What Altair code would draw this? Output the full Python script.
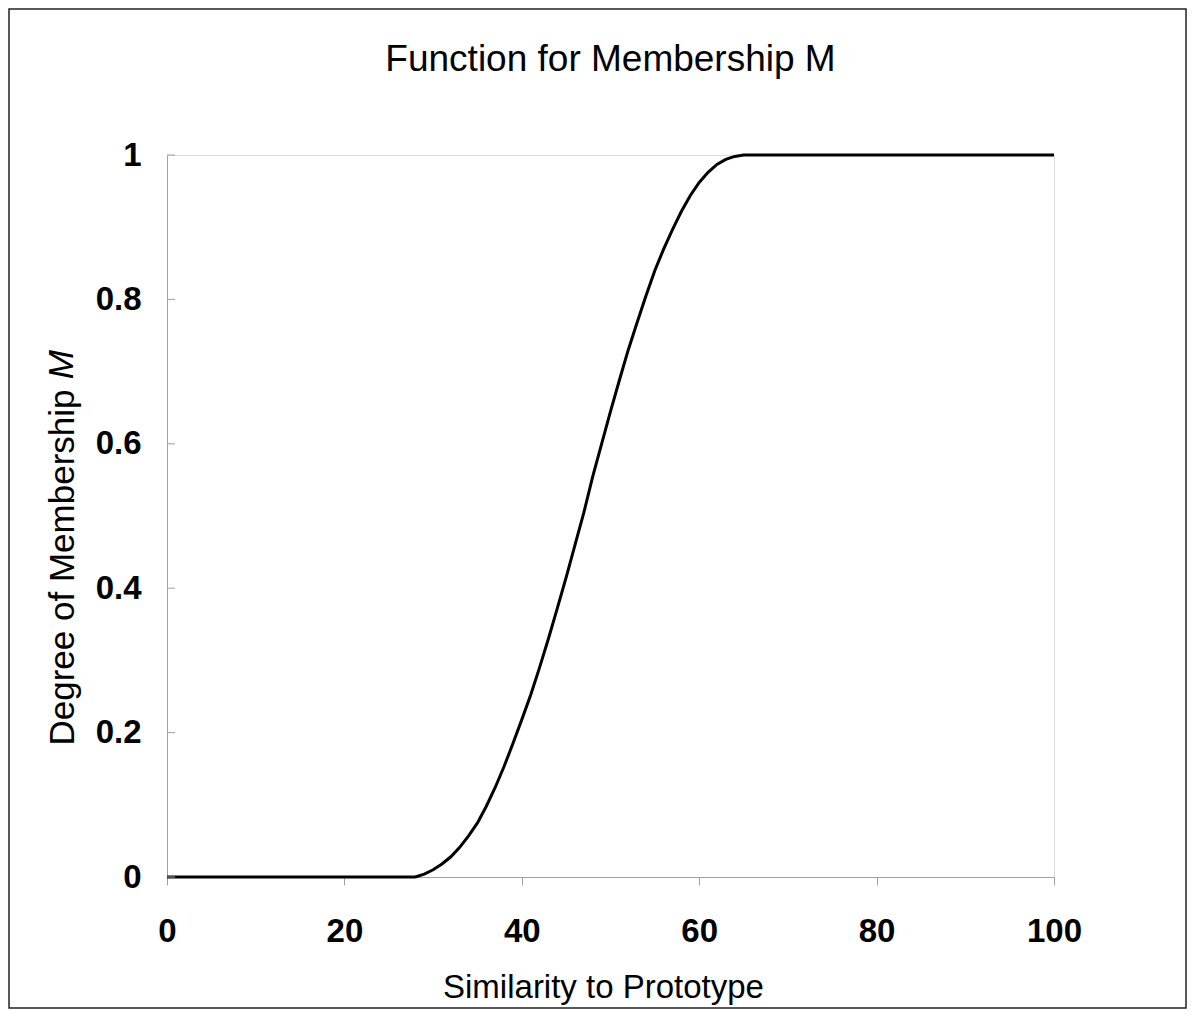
import altair as alt
import pandas as pd

# Curve
similarity = [0, 10, 20, 28, 29, 30, 31, 32, 33, 34, 35, 36, 37, 38, 39, 40,
              41, 42, 43, 44, 45, 46, 47, 48, 49, 50, 51, 52, 53, 54, 55, 56,
              57, 58, 59, 60, 61, 62, 63, 64, 65, 70, 80, 90, 100]
membership = [0, 0, 0, 0, 0.004, 0.010, 0.018, 0.028, 0.041, 0.057, 0.075, 0.098,
              0.124, 0.153, 0.185, 0.218, 0.252, 0.290, 0.330, 0.372, 0.415, 0.460,
              0.505, 0.555, 0.600, 0.645, 0.688, 0.730, 0.768, 0.805, 0.840, 0.870,
              0.897, 0.922, 0.944, 0.962, 0.976, 0.987, 0.994, 0.998, 1.0, 1.0, 1.0,
              1.0, 1.0]

x_ticks = [0, 20, 40, 60, 80, 100]
y_ticks = [0, 0.2, 0.4, 0.6, 0.8, 1]

title_text = "Function for Membership M"
x_title = "Similarity to Prototype"
y_title_main = "Degree of Membership"
y_title_italic = "M"

FONT = "Liberation Sans"
W, H = 887, 722
YT_SIZE = 35
YT_BOTTOM = 590

df = pd.DataFrame({"s": similarity, "m": membership})
ticks_df = pd.DataFrame({"v": y_ticks})

x_enc = alt.X("s:Q", scale=alt.Scale(domain=[0, 100], nice=False),
              axis=alt.Axis(values=x_ticks, format="d", title=x_title,
                            grid=False, domainColor="#a0a0a0", tickColor="#a0a0a0",
                            tickSize=8, labelPadding=30, labelFontSize=33,
                            labelFontWeight="bold", labelFont=FONT, labelColor="black",
                            labelFlush=False,
                            titleFont=FONT, titleFontSize=33, titleFontWeight="normal",
                            titleColor="black", titleBaseline="alphabetic",
                            titleX=436, titleY=120, titleAlign="center"))
y_enc = alt.Y("m:Q", scale=alt.Scale(domain=[0, 1], nice=False),
              axis=alt.Axis(values=y_ticks, format="~g", title=y_title_main,
                            grid=False, domainColor="#a0a0a0", ticks=False, tickSize=0,
                            labelPadding=26, labelFontSize=33, labelFontWeight="bold",
                            labelFont=FONT, labelColor="black", labelFlush=False,
                            titleFont=FONT, titleFontSize=YT_SIZE, titleFontWeight="normal",
                            titleColor="black", titleAngle=270, titleAlign="left",
                            titleBaseline="alphabetic", titleX=-94, titleY=YT_BOTTOM))

line = alt.Chart(df).mark_line(color="black", strokeWidth=3).encode(x=x_enc, y=y_enc)

ytick_rules = alt.Chart(ticks_df).mark_rule(color="#a0a0a0", strokeWidth=1).encode(
    y=alt.Y("v:Q"), x=alt.value(0), x2=alt.value(8))

italic_m = alt.Chart(alt.Data(values=[{"t": y_title_italic}])).mark_text(
    font=FONT, fontSize=YT_SIZE, fontStyle="italic", angle=270, align="left",
    baseline="alphabetic", color="black").encode(
    text="t:N", x=alt.value(-94), y=alt.value(YT_BOTTOM - 10.45 * YT_SIZE))

border = alt.Chart(alt.Data(values=[{"a": 1}])).mark_rect(
    fillOpacity=0, stroke="#222222", strokeWidth=1.5).encode(
    x=alt.value(-158), x2=alt.value(1019), y=alt.value(-146), y2=alt.value(853))

chart = alt.layer(border, line, ytick_rules, italic_m).properties(
    width=W, height=H,
    title=alt.Title(title_text, fontSize=37, fontWeight="normal", font=FONT,
                    color="black", anchor="middle", baseline="alphabetic",
                    offset=10, dy=110),
    autosize=alt.AutoSizeParams(type="none"),
    padding={"left": 159, "top": 147, "right": 134, "bottom": 135},
).configure_view(stroke="#c0c0c0", strokeWidth=1).configure(background="white")

chart.save("out.html", embed_options={"renderer": "svg", "actions": False})
